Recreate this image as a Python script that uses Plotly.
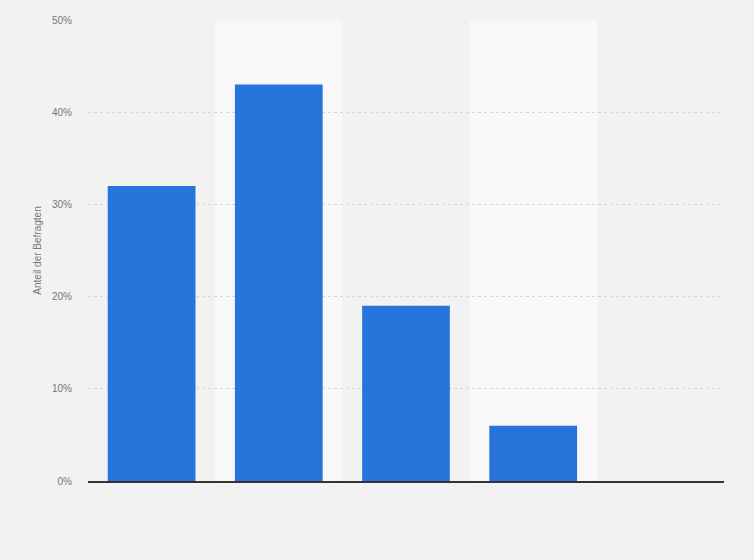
import plotly.graph_objects as go

# Werte (Anteil der Befragten in %)
categories = ["Kategorie 1", "Kategorie 2", "Kategorie 3", "Kategorie 4", "Kategorie 5"]
shares = [32, 43, 19, 6, 0]
tick_values = [0, 10, 20, 30, 40, 50]
tick_labels = ["0%", "10%", "20%", "30%", "40%", "50%"]

fig = go.Figure()

fig.add_trace(go.Bar(
    x=categories,
    y=shares,
    marker=dict(color="#2775db", line=dict(width=0)),
    width=0.69,
    hovertemplate="%{x}: %{y}%<extra></extra>",
))

# helle Hintergrundstreifen hinter jeder zweiten Kategorie
for i in range(1, len(categories), 2):
    fig.add_shape(
        type="rect", xref="x", yref="y",
        x0=i - 0.5, x1=i + 0.5, y0=0, y1=50,
        fillcolor="#f8f8f8", line=dict(width=0), layer="below",
    )

fig.update_layout(
    width=754,
    height=560,
    paper_bgcolor="#f2f2f2",
    plot_bgcolor="#f2f2f2",
    margin={"l": 88, "r": 30, "t": 20, "b": 79},
    showlegend=False,
    font=dict(family="Liberation Sans, Arial, sans-serif", color="#666666"),
)

fig.update_xaxes(
    showticklabels=False,
    showgrid=False,
    showline=True,
    linecolor="#333333",
    linewidth=1.5,
    ticks="",
    range=[-0.5, len(categories) - 0.5],
)

fig.update_yaxes(
    range=[0, 50],
    tickvals=tick_values,
    ticktext=tick_labels,
    tickfont=dict(size=10, color="#777777"),
    ticklabelstandoff=15,
    showgrid=True,
    gridcolor="#d6d6d6",
    griddash="dot",
    gridwidth=1,
    zeroline=False,
    showline=False,
    ticks="",
    ticklen=0,
    title=dict(text="Anteil der Befragten", font=dict(size=10, color="#777777"), standoff=8),
)

# Seitenrand des Browsers entfernen, damit die Grafik das Fenster füllt
fig.write_html(
    "out.html",
    config={"displayModeBar": False},
    post_script="document.body.style.margin='0';",
)
